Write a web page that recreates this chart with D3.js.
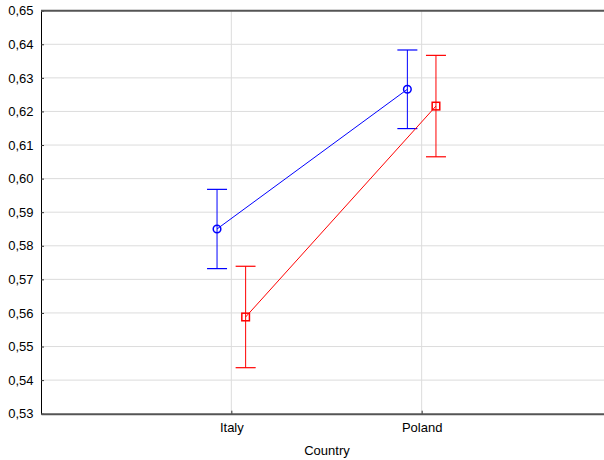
<!DOCTYPE html>
<html>
<head>
<meta charset="utf-8">
<script src="https://cdn.jsdelivr.net/npm/d3@7"></script>
<style>
  html, body { margin: 0; padding: 0; background: #fff; }
  svg text { font-family: "Liberation Sans", Arial, sans-serif; }
</style>
</head>
<body>
<svg id="chart" width="604" height="460"></svg>
<script>
// Category levels on the x axis
const countries = ["Italy", "Poland"];

// Group means with their confidence half-widths
const blueMeans = [0.5850, 0.6266];
const blueErr   = [0.0118, 0.0117];
const redMeans  = [0.5588, 0.6216];
const redErr    = [0.0151, 0.0151];

// Y axis ticks
const yTicks = [0.53, 0.54, 0.55, 0.56, 0.57, 0.58, 0.59, 0.60, 0.61, 0.62, 0.63, 0.64, 0.65];

const svg = d3.select("#chart");
const plotL = 41, plotR = 612, plotT = 10.7, plotB = 413.7;

const x = d3.scalePoint().domain(countries).range([plotL, plotR]).padding(1);
const y = d3.scaleLinear().domain([0.53, 0.65]).range([plotB, plotT]);
const fmt = v => d3.format(".2f")(v).replace(".", ",");

// Gridlines
svg.append("g").selectAll("line").data(yTicks.slice(1, -1)).join("line")
  .attr("x1", plotL).attr("x2", 604)
  .attr("y1", d => y(d)).attr("y2", d => y(d))
  .attr("stroke", "#dcdcdc").attr("stroke-width", 1);
svg.append("g").selectAll("line").data(countries).join("line")
  .attr("x1", d => x(d)).attr("x2", d => x(d))
  .attr("y1", plotT).attr("y2", plotB)
  .attr("stroke", "#dcdcdc").attr("stroke-width", 1);

// Y axis
const yAxis = svg.append("g").attr("transform", `translate(${plotL},0)`)
  .call(d3.axisLeft(y).tickValues(yTicks).tickFormat(fmt).tickSizeInner(-3).tickSizeOuter(0).tickPadding(7.5));
yAxis.select(".domain").attr("stroke", "#000");
yAxis.selectAll(".tick line").attr("stroke", "#333");
yAxis.selectAll("text").attr("font-size", 13).attr("fill", "#000");

// X axis
const xAxis = svg.append("g").attr("transform", `translate(0,${plotB})`)
  .call(d3.axisBottom(x).tickSizeInner(-3).tickSizeOuter(0).tickPadding(9));
xAxis.select(".domain").attr("stroke", "#555").attr("stroke-width", 2);
xAxis.selectAll(".tick line").attr("stroke", "#333");
xAxis.selectAll("text").attr("font-size", 13).attr("fill", "#000");

// Top border
svg.append("line").attr("x1", plotL).attr("x2", 604).attr("y1", plotT).attr("y2", plotT)
  .attr("stroke", "#555").attr("stroke-width", 2);

// Axis title
svg.append("text").attr("x", 327).attr("y", 455).attr("text-anchor", "middle")
  .attr("font-size", 13).attr("fill", "#000").text("Country");

function series(means, errs, color, dx, shape) {
  const pts = countries.map((c, i) => ({ c, m: means[i], e: errs[i] }));
  const g = svg.append("g");
  g.append("path").datum(pts)
    .attr("fill", "none").attr("stroke", color).attr("stroke-width", 1)
    .attr("d", d3.line().x(d => x(d.c) + dx).y(d => y(d.m)));
  const eb = g.selectAll("g.eb").data(pts).join("g").attr("class", "eb");
  eb.append("line").attr("x1", d => x(d.c) + dx).attr("x2", d => x(d.c) + dx)
    .attr("y1", d => y(d.m + d.e)).attr("y2", d => y(d.m - d.e))
    .attr("stroke", color).attr("stroke-width", 1);
  [1, -1].forEach(s => {
    eb.append("line").attr("x1", d => x(d.c) + dx - 10).attr("x2", d => x(d.c) + dx + 10)
      .attr("y1", d => y(d.m + s * d.e)).attr("y2", d => y(d.m + s * d.e))
      .attr("stroke", color).attr("stroke-width", 1.2);
  });
  if (shape === "circle") {
    eb.append("circle").attr("cx", d => x(d.c) + dx).attr("cy", d => y(d.m)).attr("r", 3.8)
      .attr("fill", "none").attr("stroke", color).attr("stroke-width", 1.5);
  } else {
    eb.append("rect").attr("x", d => x(d.c) + dx - 3.8).attr("y", d => y(d.m) - 3.8)
      .attr("width", 7.6).attr("height", 7.6)
      .attr("fill", "none").attr("stroke", color).attr("stroke-width", 1.5);
  }
}

series(blueMeans, blueErr, "#0000ff", -14.3, "circle");
series(redMeans, redErr, "#ff0000", 14.3, "square");
</script>
</body>
</html>
